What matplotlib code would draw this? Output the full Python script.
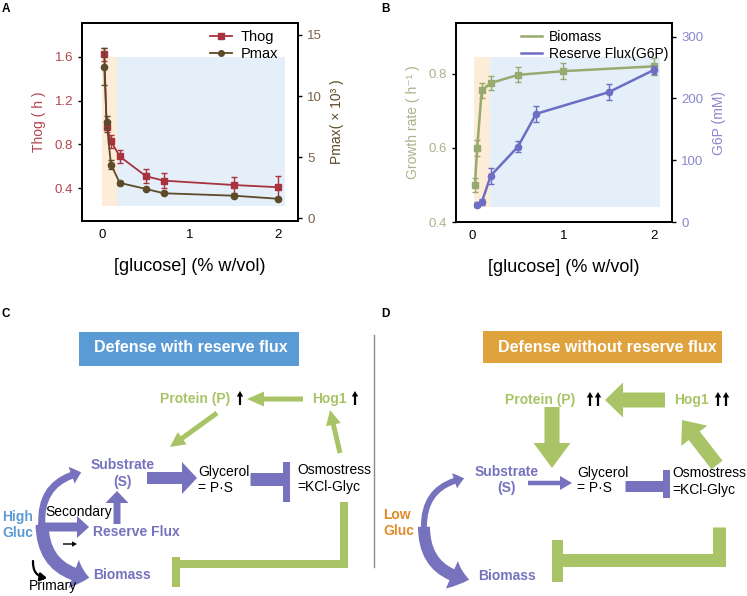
import numpy as np
import matplotlib.pyplot as plt
from matplotlib.patches import FancyArrow, FancyArrowPatch, Rectangle

plt.rcParams['font.family'] = ['Liberation Sans', 'DejaVu Sans']

# ---- panel A data ----
glucose_a = [0.025, 0.05, 0.1, 0.2, 0.5, 0.7, 1.5, 2.0]
thog = [1.62, 0.96, 0.83, 0.69, 0.51, 0.47, 0.43, 0.41]
thog_err = [0.06, 0.045, 0.06, 0.055, 0.065, 0.07, 0.075, 0.1]
pmax = [12.4, 7.9, 4.4, 2.9, 2.4, 2.05, 1.85, 1.6]
pmax_err = [1.5, 0.5, 0.35, 0.15, 0.12, 0.1, 0.1, 0.1]

# ---- panel B data ----
glucose_bio = [0.025, 0.05, 0.1, 0.2, 0.5, 1.0, 2.0]
biomass = [0.50, 0.60, 0.755, 0.775, 0.797, 0.807, 0.82]
biomass_err = [0.02, 0.022, 0.02, 0.02, 0.02, 0.022, 0.022]
glucose_g6p = [0.05, 0.1, 0.2, 0.5, 0.7, 1.5, 2.0]
g6p = [28, 32, 75, 122, 175, 210, 246]
g6p_err = [4, 5, 13, 9, 13, 13, 7]

C_THOG = '#a8323e'
C_THOG_TXT = '#b5444f'
C_PMAX = '#5c4a28'
C_PMAX_TXT = '#7a6248'
C_BIO = '#98aa70'
C_BIO_TXT = '#a9b38a'
C_G6P = '#6d6dc4'
C_G6P_TXT = '#8a86d0'
ORANGE_BG = '#fcecd8'
BLUE_BG = '#e4eff9'
PURPLE = '#7672bd'
GREEN = '#a9c466'

W, H = 747, 596
fig = plt.figure(figsize=(W / 100, H / 100), dpi=100)


def box_axes(left, top, right, bottom):
    return fig.add_axes([left / W, 1 - bottom / H, (right - left) / W, (bottom - top) / H])


def style(ax, ax2, lcol, rcol):
    for a in (ax, ax2):
        for s in a.spines.values():
            s.set_linewidth(1.3)
    ax.tick_params(axis='y', colors=lcol, labelsize=9.5, length=3, width=1, direction='out')
    ax.tick_params(axis='y', color='black')
    ax2.tick_params(axis='y', colors=rcol, labelsize=9.5, length=3, width=1, direction='out')
    ax2.tick_params(axis='y', color='black')
    ax.tick_params(axis='x', labelsize=9.5, length=0, pad=6)
    ax.set_xticks([0, 1, 2])
    ax.set_xlabel('[glucose] (% w/vol)', fontsize=13, labelpad=12)


# ---------------- Panel A ----------------
axA = box_axes(82, 23, 298, 221)
axA.set_xlim(-0.23, 2.23)
axA.set_ylim(0.102, 1.907)
axA.fill_between([0, 0.17], 0.24, 1.6, color=ORANGE_BG, lw=0)
axA.fill_between([0.17, 2.08], 0.24, 1.6, color=BLUE_BG, lw=0)
axA2 = axA.twinx()
axA2.set_ylim(-0.22, 15.98)
axA.errorbar(glucose_a, thog, yerr=thog_err, color=C_THOG, marker='s', ms=4.5,
             lw=1.3, capsize=2, elinewidth=1)
axA2.errorbar(glucose_a, pmax, yerr=pmax_err, color=C_PMAX, marker='o', ms=4.5,
              lw=1.3, capsize=2, elinewidth=1)
axA.set_yticks([0.4, 0.8, 1.2, 1.6])
axA.set_yticklabels(['0.4', '0.8', '1.2', '1.6'])
axA2.set_yticks([0, 5, 10, 15])
axA.set_ylabel('Thog ( h )', color=C_THOG_TXT, fontsize=10, labelpad=6)
axA2.set_ylabel('Pmax( × 10³ )', color=C_PMAX, fontsize=10, labelpad=6)
style(axA, axA2, C_THOG_TXT, C_PMAX_TXT)
hA = [plt.Line2D([], [], color=C_THOG, marker='s', ms=4, lw=1.3),
      plt.Line2D([], [], color=C_PMAX, marker='o', ms=4, lw=1.3)]
axA2.legend(hA, ['Thog', 'Pmax'], loc='upper right', bbox_to_anchor=(0.97, 1.03),
            frameon=False, fontsize=10.5, handlelength=1.5, handletextpad=0.6,
            labelspacing=0.2)

# ---------------- Panel B ----------------
axB = box_axes(456, 23, 672, 222)
axB.set_xlim(-0.184, 2.2)
axB.set_ylim(0.402, 0.937)
axB.fill_between([0.01, 0.19], 0.44, 0.845, color=ORANGE_BG, lw=0)
axB.fill_between([0.19, 2.07], 0.44, 0.845, color=BLUE_BG, lw=0)
axB2 = axB.twinx()
axB2.set_ylim(0, 322)
axB.errorbar(glucose_bio, biomass, yerr=biomass_err, color=C_BIO, marker='s', ms=4.5,
             lw=1.8, capsize=2, elinewidth=1)
axB2.errorbar(glucose_g6p, g6p, yerr=g6p_err, color=C_G6P, marker='o', ms=4.5,
              lw=1.8, capsize=2, elinewidth=1)
axB.set_yticks([0.4, 0.6, 0.8])
axB2.set_yticks([0, 100, 200, 300])
axB.set_ylabel('Growth rate ( h⁻¹ )', color=C_BIO_TXT, fontsize=10, labelpad=6)
axB2.set_ylabel('G6P (mM)', color=C_G6P_TXT, fontsize=10, labelpad=6)
style(axB, axB2, C_BIO_TXT, C_G6P_TXT)
legB = [plt.Line2D([], [], color=C_BIO, lw=1.8), plt.Line2D([], [], color=C_G6P, lw=1.8)]
axB2.legend(legB, ['Biomass', 'Reserve Flux(G6P)'], loc='upper right', bbox_to_anchor=(1.04, 1.03),
            frameon=False, fontsize=10, handlelength=1.5, handletextpad=0.5, labelspacing=0.25)

# ---------------- Diagrams (pixel coordinates) ----------------
d = fig.add_axes([0, 0, 1, 1], zorder=-1)
d.set_xlim(0, W)
d.set_ylim(H, 0)
d.axis('off')


def arrow(x0, y0, x1, y1, w, hw, hl, color):
    d.add_patch(FancyArrow(x0, y0, x1 - x0, y1 - y0, width=w, head_width=hw, head_length=hl,
                           length_includes_head=True, color=color, lw=0))


def curved(x0, y0, x1, y1, rad, tw, hw, hl, color, style='simple'):
    st = f'{style},head_length={hl * 0.72},head_width={hw * 0.72},tail_width={tw * 0.72}'
    d.add_patch(FancyArrowPatch((x0, y0), (x1, y1), connectionstyle=f'arc3,rad={rad}',
                                arrowstyle=st, color=color, lw=0))


def tbar(xs, ys, w, bar, color):
    d.plot(xs, ys, color=color, lw=w * 0.72, solid_capstyle='butt', solid_joinstyle='miter')
    bx, by, bw, bh = bar
    d.add_patch(Rectangle((bx, by), bw, bh, color=color, lw=0))


def up(x, y):
    # small black "increase" arrow
    arrow(x, y + 7, x, y - 7, 2.2, 6.5, 5.5, 'black')


def txt(x, y, s, color='black', size=10, bold=False, ha='left'):
    d.text(x, y, s, color=color, fontsize=size, fontweight='bold' if bold else 'normal',
           ha=ha, va='center')


# panel letters
for lx, ly, lab in [(2, 9, 'A'), (381, 9, 'B'), (2, 314, 'C'), (381, 314, 'D')]:
    txt(lx, ly, lab, size=8.5, bold=True)

# divider
d.plot([374, 374], [335, 567], color='#8a8a8a', lw=1)

# ---- C ----
d.add_patch(Rectangle((79, 332), 220, 34, color='#5b9bd5', lw=0))
txt(191, 348, 'Defense with reserve flux', color='white', size=11.5, bold=True, ha='center')
txt(195, 399, 'Protein (P)', color=GREEN, bold=True, ha='center')
up(240, 398)
txt(329, 399, 'Hog1', color=GREEN, bold=True, ha='center')
up(355, 398)
arrow(303, 399, 247, 399, 5, 15, 17, GREEN)
arrow(217, 413, 170, 447, 5, 15, 15, GREEN)
arrow(340, 453, 330, 410, 5, 15, 15, GREEN)
txt(123, 465, 'Substrate', color=PURPLE, bold=True, ha='center')
txt(123, 482, '(S)', color=PURPLE, bold=True, ha='center')
arrow(147, 478, 197, 478, 12, 32, 15, PURPLE)
txt(198, 472, 'Glycerol')
txt(198, 488, '= P·S')
tbar([250, 284], [479, 479], 13, (283, 462, 7, 40), PURPLE)
txt(297, 470, 'Osmostress')
txt(297, 487, '=KCl-Glyc')
tbar([344, 344, 178], [502, 564, 564], 8, (172, 557, 8, 30), GREEN)
arrow(117, 524, 117, 491, 7, 23, 12, PURPLE)
txt(45, 512, 'Secondary')
txt(2, 517, 'High', color='#5b9bd5', bold=True)
txt(2, 533, 'Gluc', color='#5b9bd5', bold=True)
txt(93, 532, 'Reserve Flux', color=PURPLE, bold=True)
txt(93, 575, 'Biomass', color=PURPLE, bold=True)
txt(29, 586, 'Primary')
arrow(38, 527, 89, 527, 9, 22, 12, PURPLE)
curved(42, 527, 84, 472, -0.45, 7, 18, 10, PURPLE)
curved(42, 522, 92, 578, 0.45, 13, 30, 16, PURPLE)
arrow(63, 544, 77, 544, 1.4, 5.5, 5, 'black')
d.add_patch(FancyArrowPatch((33, 561), (47, 578), connectionstyle='arc3,rad=0.45',
                            arrowstyle='-|>,head_length=4,head_width=2.5', color='black',
                            lw=1.6, shrinkA=0, shrinkB=0))

# ---- D ----
d.add_patch(Rectangle((483, 331), 239, 32, color='#e0a23c', lw=0))
txt(607, 347, 'Defense without reserve flux', color='white', size=11.5, bold=True, ha='center')
txt(540, 400, 'Protein (P)', color=GREEN, bold=True, ha='center')
up(590, 399)
up(598, 399)
txt(691, 400, 'Hog1', color=GREEN, bold=True, ha='center')
up(718, 399)
up(726, 399)
arrow(665, 400, 605, 400, 15, 35, 18, GREEN)
arrow(717, 465, 682, 420, 14, 33, 20, GREEN)
arrow(552, 407, 552, 468, 15, 37, 25, GREEN)
txt(507, 472, 'Substrate', color=PURPLE, bold=True, ha='center')
txt(507, 488, '(S)', color=PURPLE, bold=True, ha='center')
arrow(528, 483, 572, 483, 4.5, 14, 12, PURPLE)
txt(577, 473, 'Glycerol')
txt(577, 488, '= P·S')
tbar([625, 664], [485.5, 485.5], 11, (663, 470, 7, 28), PURPLE)
txt(672, 473, 'Osmostress')
txt(672, 490, '=KCl-Glyc')
tbar([718.5, 718.5, 560], [527, 560, 560], 13, (552, 540, 11, 42), GREEN)
txt(383, 515, 'Low', color='#e08a2a', bold=True)
txt(383, 531, 'Gluc', color='#e08a2a', bold=True)
txt(478, 576, 'Biomass', color=PURPLE, bold=True)
curved(424, 530, 467, 478, -0.45, 6, 16, 10, PURPLE)
curved(424, 524, 472, 580, 0.45, 12, 30, 18, PURPLE)

fig.savefig('out.png', dpi=100)
